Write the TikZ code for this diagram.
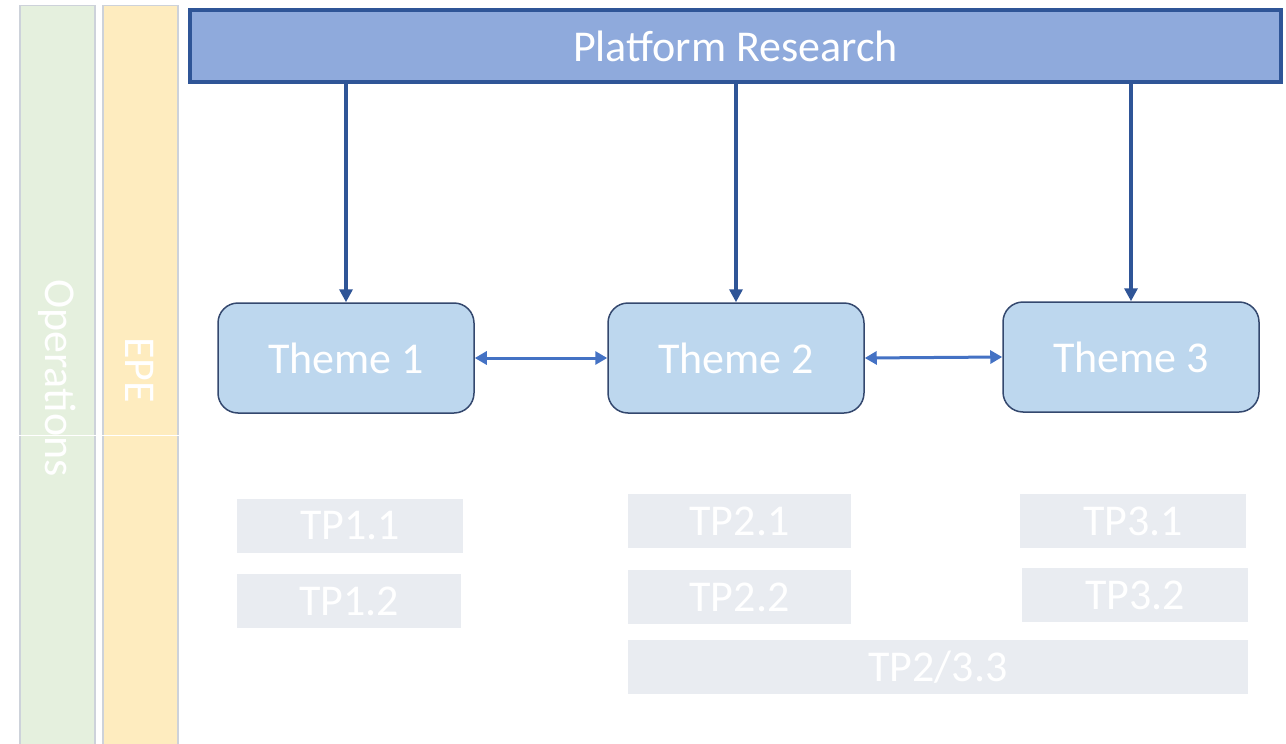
\documentclass[tikz,border=0pt]{standalone}
\usepackage{fontspec}
\setmainfont{Carlito}
\usetikzlibrary{arrows.meta}
\definecolor{opgreen}{RGB}{229,240,222}
\definecolor{epeyellow}{RGB}{254,236,191}
\definecolor{stripborder}{RGB}{205,210,218}
\definecolor{prfill}{RGB}{143,170,220}
\definecolor{prdraw}{RGB}{47,85,151}
\definecolor{themefill}{RGB}{189,215,238}
\definecolor{themedraw}{RGB}{52,72,110}
\definecolor{linkblue}{RGB}{68,114,196}
\definecolor{tpfill}{RGB}{233,236,241}
\tikzset{
  bigtext/.style={font=\fontsize{44}{50}\selectfont, text=white},
  strip/.style={draw=stripborder, line width=1.5pt, inner sep=0pt},
  prbox/.style={draw=prdraw, fill=prfill, line width=4pt, inner sep=0pt, bigtext},
  themebox/.style={draw=themedraw, fill=themefill, line width=1.5pt, rounded corners=20pt, inner sep=0pt, minimum width=256pt, minimum height=110pt, bigtext},
  tpbox/.style={fill=tpfill, inner sep=0pt, minimum height=54pt, bigtext},
  downarrow/.style={draw=prdraw, line width=3.5pt, -{Triangle[length=13pt,width=13pt]}},
  linkarrow/.style={draw=linkblue, line width=3pt, {Triangle[length=12pt,width=13pt]}-{Triangle[length=12pt,width=13pt]}},
}
\begin{document}
\begin{tikzpicture}[x=1pt,y=-1pt]
\useasboundingbox (0,0) rectangle (1286,744);
% side strips
\node[strip, fill=opgreen, minimum width=75pt, minimum height=745pt] (ops) at (57.5,378) {};
\node[strip, fill=epeyellow, minimum width=75pt, minimum height=745pt] (epe) at (140.5,378) {};
\node[bigtext, rotate=-90] (opstext) at (57,378) {Operations};
\node[bigtext, rotate=-90] (epetext) at (140,370) {EPE};
\draw[white, line width=1pt] (ops.west |- 0,435) coordinate (gapl) -- (epe.east |- 0,435) coordinate (gapr);
% platform research
\node[prbox, minimum width=1091pt, minimum height=72pt] (pr) at (735.5,46) {Platform Research};
% themes
\node[themebox] (t1) at (346,358) {Theme 1};
\node[themebox] (t2) at (736,358) {Theme 2};
\node[themebox] (t3) at (1131,357) {Theme 3};
\draw[downarrow] (pr.south -| t1.north) -- (t1.north);
\draw[downarrow] (pr.south -| t2.north) -- (t2.north);
\draw[downarrow] (pr.south -| t3.north) -- (t3.north);
\draw[linkarrow] (t1.east) -- (t2.west);
\draw[linkarrow] (t2.east) -- (t3.west);
% TP boxes
\node[tpbox, minimum width=226pt] (tp11) at (350,526) {TP1.1};
\node[tpbox, minimum width=224pt] (tp12) at (349,601) {TP1.2};
\node[tpbox, minimum width=223pt] (tp21) at (739.5,521) {TP2.1};
\node[tpbox, minimum width=223pt] (tp22) at (739.5,597) {TP2.2};
\node[tpbox, minimum width=226pt] (tp31) at (1133,521) {TP3.1};
\node[tpbox, minimum width=226pt] (tp32) at (1135,595) {TP3.2};
\node[tpbox, minimum width=620pt] (tp33) at (938,667) {TP2/3.3};
\end{tikzpicture}
\end{document}
